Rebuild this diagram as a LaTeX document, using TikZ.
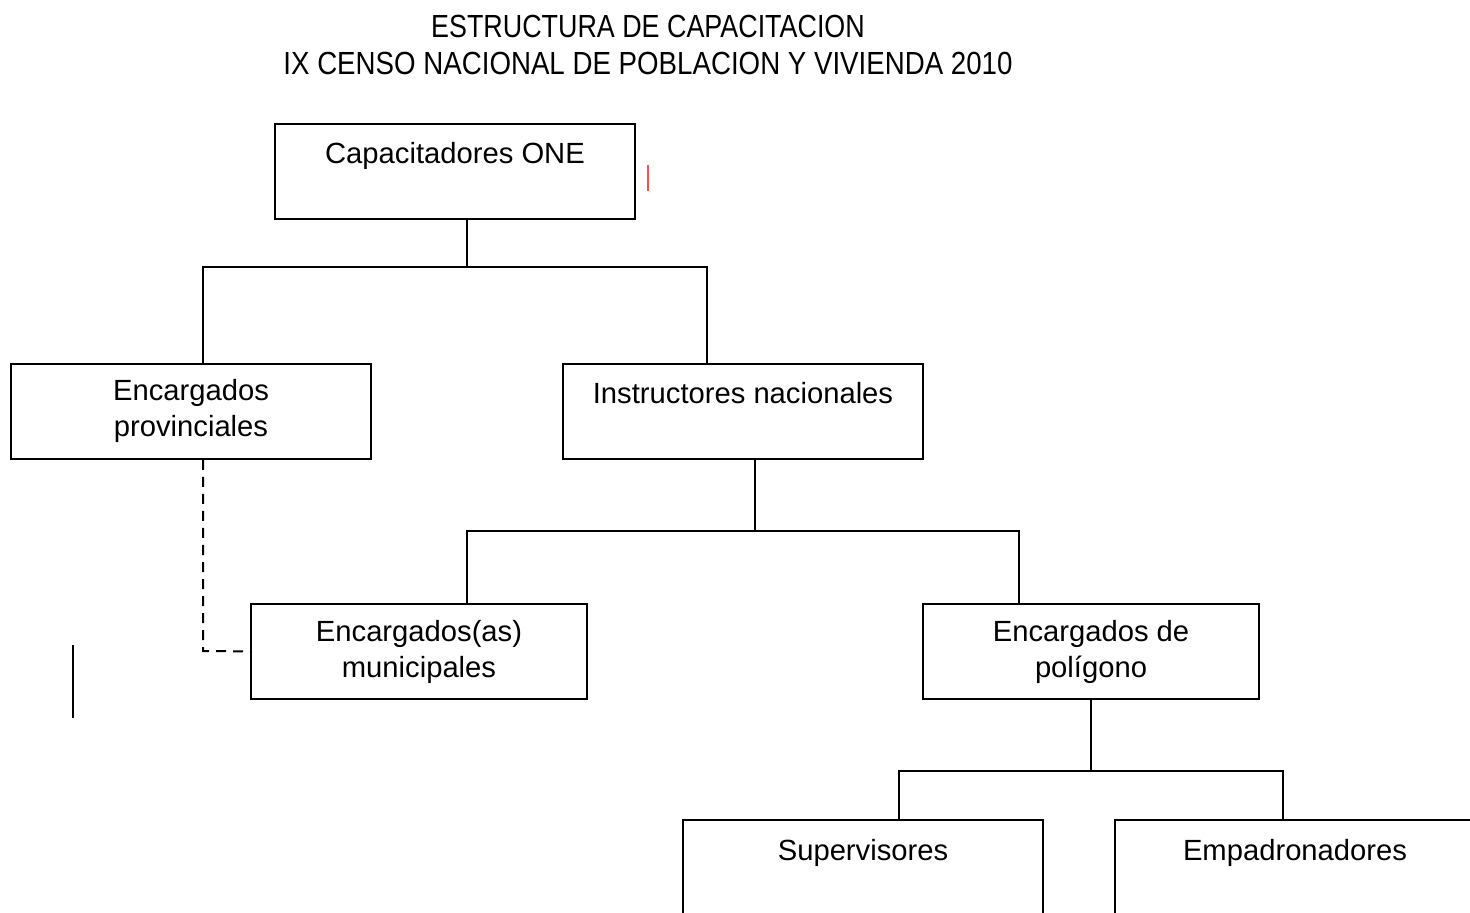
\documentclass[tikz,border=0pt]{standalone}
\usepackage{fontspec}
\setmainfont{Liberation Sans}
\begin{document}
\begin{tikzpicture}[x=0.5pt,y=-0.5pt,
  box/.style={draw,line width=1pt,inner sep=0pt},
  bw/.style={minimum width=180pt,minimum height=47.5pt},
  nw/.style={minimum width=168pt,minimum height=47.5pt},
  lbl/.style={anchor=base,inner sep=0pt,font=\fontsize{14.6}{17.5}\selectfont,align=center},
  ttl/.style={anchor=base,inner sep=0pt,font=\fontsize{16}{19}\selectfont},
  conn/.style={line width=1pt},
  dconn/.style={line width=1pt,dash pattern=on 5pt off 3.5pt}]
\useasboundingbox (0,0) rectangle (1470,913);
\clip (0,0) rectangle (1470,913);
% title
\node[ttl] (t1) at (648,38) {\scalebox{0.84}[1]{ESTRUCTURA DE CAPACITACION}};
\node[ttl] (t2) at (648,75) {\scalebox{0.865}[1]{IX CENSO NACIONAL DE POBLACION Y VIVIENDA 2010}};
% boxes
\node[box,bw] (cap) at (455,171.5) {};
\node[box,bw] (prov) at (191,411.5) {};
\node[box,bw] (inst) at (743,411.5) {};
\node[box,nw] (mun) at (419,651.5) {};
\node[box,nw] (pol) at (1091,651.5) {};
\node[box,minimum width=180pt,minimum height=80pt] (sup) at (863,900) {};
\node[box,minimum width=190pt,minimum height=80pt] (emp) at (1305,900) {};
% labels
\node[lbl] (capl) at (455,164) {Capacitadores ONE};
\node[lbl] (provl) at (191,401) {Encargados};
\node[lbl] (provl2) at (191,437) {provinciales};
\node[lbl] (instl) at (743,404) {Instructores nacionales};
\node[lbl] (munl) at (419,641) {Encargados(as)};
\node[lbl] (munl2) at (419,677) {municipales};
\node[lbl] (poll) at (1091,641) {Encargados de};
\node[lbl] (poll2) at (1091,677) {polígono};
\node[lbl] (supl) at (863,860) {Supervisores};
\node[lbl] (empl) at (1295,860) {Empadronadores};
% connectors
\coordinate (j1) at (467,267);
\draw[conn] (cap.south -| j1) -- (j1);
\draw[conn] (prov.north -| 203,0) -- (203,267) -- (707,267) -- (inst.north -| 707,0);
\coordinate (j2) at (755,531);
\draw[conn] (inst.south -| j2) -- (j2);
\draw[conn] (mun.north -| 467,0) -- (467,531) -- (1019,531) -- (pol.north -| 1019,0);
\coordinate (j3) at (1091,771);
\draw[conn] (pol.south) -- (j3);
\draw[conn] (sup.north -| 899,0) -- (899,771) -- (1283,771) -- (emp.north -| 1283,0);
\draw[dconn] (prov.south -| 203,0) -- (203,651) -- (mun.west);
% stray marks
\coordinate (r1) at (648,165);
\coordinate (r2) at (648,191);
\draw[red!70,line width=0.8pt] (r1) -- (r2);
\coordinate (b1) at (73,645);
\coordinate (b2) at (73,718);
\draw[line width=1pt] (b1) -- (b2);
\end{tikzpicture}
\end{document}
